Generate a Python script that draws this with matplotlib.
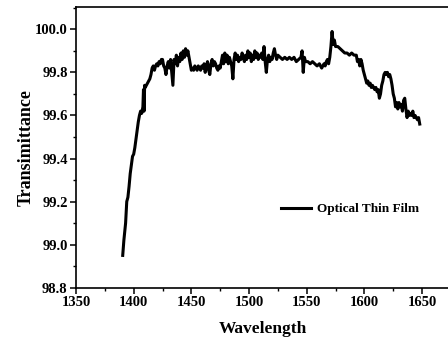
import matplotlib
matplotlib.use("Agg")
import matplotlib.pyplot as plt
from matplotlib.ticker import MultipleLocator

wavelength = [
    1390.5, 1391.5, 1393, 1394, 1395, 1396, 1397, 1398, 1399, 1400,
    1401, 1402, 1403, 1404, 1405, 1406, 1407, 1408, 1408.5, 1409,
    1409.5, 1410, 1411, 1412, 1413, 1414, 1415, 1416, 1417, 1418,
    1419, 1420, 1421, 1422, 1423, 1424, 1425, 1426, 1427, 1428,
    1429, 1430, 1431, 1432, 1433, 1434, 1435, 1436, 1437, 1438,
    1439, 1440, 1441, 1442, 1443, 1444, 1445, 1446, 1447, 1448,
    1449, 1450, 1451, 1452, 1453, 1454, 1455, 1456, 1457, 1458,
    1459, 1460, 1461, 1462, 1463, 1464, 1465, 1466, 1467, 1468,
    1469, 1470, 1471, 1472, 1473, 1474, 1475, 1476, 1477, 1478,
    1479, 1480, 1481, 1482, 1483, 1484, 1485, 1486, 1487, 1488,
    1489, 1490, 1491, 1492, 1493, 1494, 1495, 1496, 1497, 1498,
    1499, 1500, 1501, 1502, 1503, 1504, 1505, 1506, 1507, 1508,
    1509, 1510, 1511, 1512, 1513, 1514, 1515, 1516, 1517, 1518,
    1519, 1520, 1521, 1522, 1523, 1524, 1525, 1527, 1529, 1531,
    1533, 1535, 1537, 1539, 1541, 1543, 1545, 1546, 1547, 1548,
    1549, 1551, 1553, 1555, 1557, 1559, 1561, 1563, 1565, 1566,
    1567, 1568, 1569, 1570, 1571, 1572, 1573, 1574, 1575, 1577,
    1579, 1581, 1583, 1585, 1587, 1589, 1591, 1593, 1594, 1595,
    1596, 1597, 1598, 1599, 1600, 1601, 1602, 1603, 1604, 1605,
    1606, 1607, 1608, 1609, 1610, 1611, 1612, 1613, 1614, 1615,
    1616, 1617, 1618, 1619, 1620, 1621, 1622, 1623, 1624, 1625,
    1626, 1627, 1628, 1629, 1630, 1631, 1632, 1633, 1634, 1635,
    1636, 1637, 1638, 1639, 1640, 1641, 1642, 1643, 1644, 1645,
    1646, 1647, 1648,
]
transmittance = [
    98.95, 99.02, 99.10, 99.20, 99.22, 99.27, 99.33, 99.37, 99.41, 99.42,
    99.45, 99.49, 99.53, 99.57, 99.60, 99.62, 99.61, 99.64, 99.72, 99.62,
    99.74, 99.73, 99.74, 99.75, 99.76, 99.77, 99.79, 99.82, 99.83, 99.81,
    99.83, 99.84, 99.83, 99.85, 99.84, 99.86, 99.86, 99.83, 99.82, 99.79,
    99.83, 99.85, 99.82, 99.86, 99.80, 99.74, 99.86, 99.84, 99.88, 99.83,
    99.87, 99.85, 99.89, 99.86, 99.90, 99.87, 99.91, 99.88, 99.90, 99.87,
    99.84, 99.81, 99.82, 99.81, 99.83, 99.82, 99.81, 99.83, 99.82, 99.81,
    99.83, 99.82, 99.84, 99.80, 99.83, 99.85, 99.81, 99.79, 99.84, 99.86,
    99.83, 99.85, 99.84, 99.82, 99.81, 99.83, 99.82, 99.85, 99.88, 99.84,
    99.89, 99.85, 99.88, 99.84, 99.87, 99.85, 99.83, 99.77, 99.86, 99.89,
    99.86, 99.88, 99.85, 99.87, 99.86, 99.89, 99.87, 99.85, 99.88, 99.86,
    99.90, 99.87, 99.89, 99.85, 99.88, 99.86, 99.90, 99.87, 99.89, 99.86,
    99.88, 99.87, 99.89, 99.86, 99.92, 99.85, 99.80, 99.86, 99.88, 99.85,
    99.87, 99.86, 99.89, 99.91, 99.88, 99.86, 99.88, 99.87, 99.86, 99.87,
    99.86, 99.87, 99.86, 99.87, 99.85, 99.86, 99.87, 99.90, 99.80, 99.87,
    99.85, 99.85, 99.84, 99.85, 99.84, 99.83, 99.84, 99.82, 99.84, 99.83,
    99.85, 99.86, 99.84, 99.87, 99.92, 99.99, 99.93, 99.95, 99.92, 99.92,
    99.91, 99.90, 99.89, 99.89, 99.88, 99.89, 99.88, 99.88, 99.85, 99.86,
    99.83, 99.86, 99.84, 99.81, 99.79, 99.77, 99.75, 99.76, 99.74, 99.75,
    99.73, 99.74, 99.73, 99.72, 99.73, 99.71, 99.72, 99.68, 99.70, 99.74,
    99.76, 99.79, 99.80, 99.79, 99.80, 99.78, 99.79, 99.77, 99.74, 99.70,
    99.68, 99.64, 99.66, 99.63, 99.66, 99.64, 99.65, 99.62, 99.67, 99.68,
    99.63, 99.59, 99.62, 99.60, 99.61, 99.60, 99.62, 99.59, 99.60, 99.59,
    99.58, 99.59, 99.56,
]
series_label = "Optical Thin Film"
x_label = "Wavelength"
y_label = "Transimittance"

plt.rcParams['font.family'] = ['Liberation Serif', 'DejaVu Serif']
plt.rcParams['font.weight'] = 'bold'

W, H = 448, 340
fig = plt.figure(figsize=(W / 100, H / 100), dpi=100)
ax = fig.add_axes([76 / W, (H - 287.7) / H, 372 / W, (287.7 - 6.5) / H])

ax.plot(wavelength, transmittance, color='black', linewidth=2.2, label=series_label)

ax.set_xlim(1350, 1672.5)
ax.set_ylim(98.8, 100.106)
ax.xaxis.set_major_locator(MultipleLocator(50))
ax.xaxis.set_minor_locator(MultipleLocator(25))
ax.yaxis.set_major_locator(MultipleLocator(0.2))
ax.yaxis.set_minor_locator(MultipleLocator(0.1))
ax.yaxis.set_major_formatter(matplotlib.ticker.FormatStrFormatter('%.1f'))

ax.spines['right'].set_visible(False)
for s in ['left', 'bottom', 'top']:
    ax.spines[s].set_linewidth(1.2)
ax.tick_params(which='major', direction='out', length=4, width=1.1, labelsize=10.5, pad=2)
ax.tick_params(which='minor', direction='out', length=2.5, width=1.0)
ax.tick_params(top=False, right=False)
for lbl in ax.get_xticklabels() + ax.get_yticklabels():
    lbl.set_fontweight('bold')

fig.text(26 / W, 1 - 148 / H, y_label, rotation=90, ha='center', va='center',
         fontsize=13, fontweight='bold')
fig.text(263 / W, 1 - 329 / H, x_label, ha='center', va='center',
         fontsize=12.5, fontweight='bold')

leg = ax.legend(loc='center left', bbox_to_anchor=(281 / W, 1 - 209 / H),
                bbox_transform=fig.transFigure, frameon=False, borderpad=0,
                borderaxespad=0, handlelength=2.3, handletextpad=0.4,
                prop={'size': 9.5, 'weight': 'bold'})

fig.savefig("out.png", dpi=100)
